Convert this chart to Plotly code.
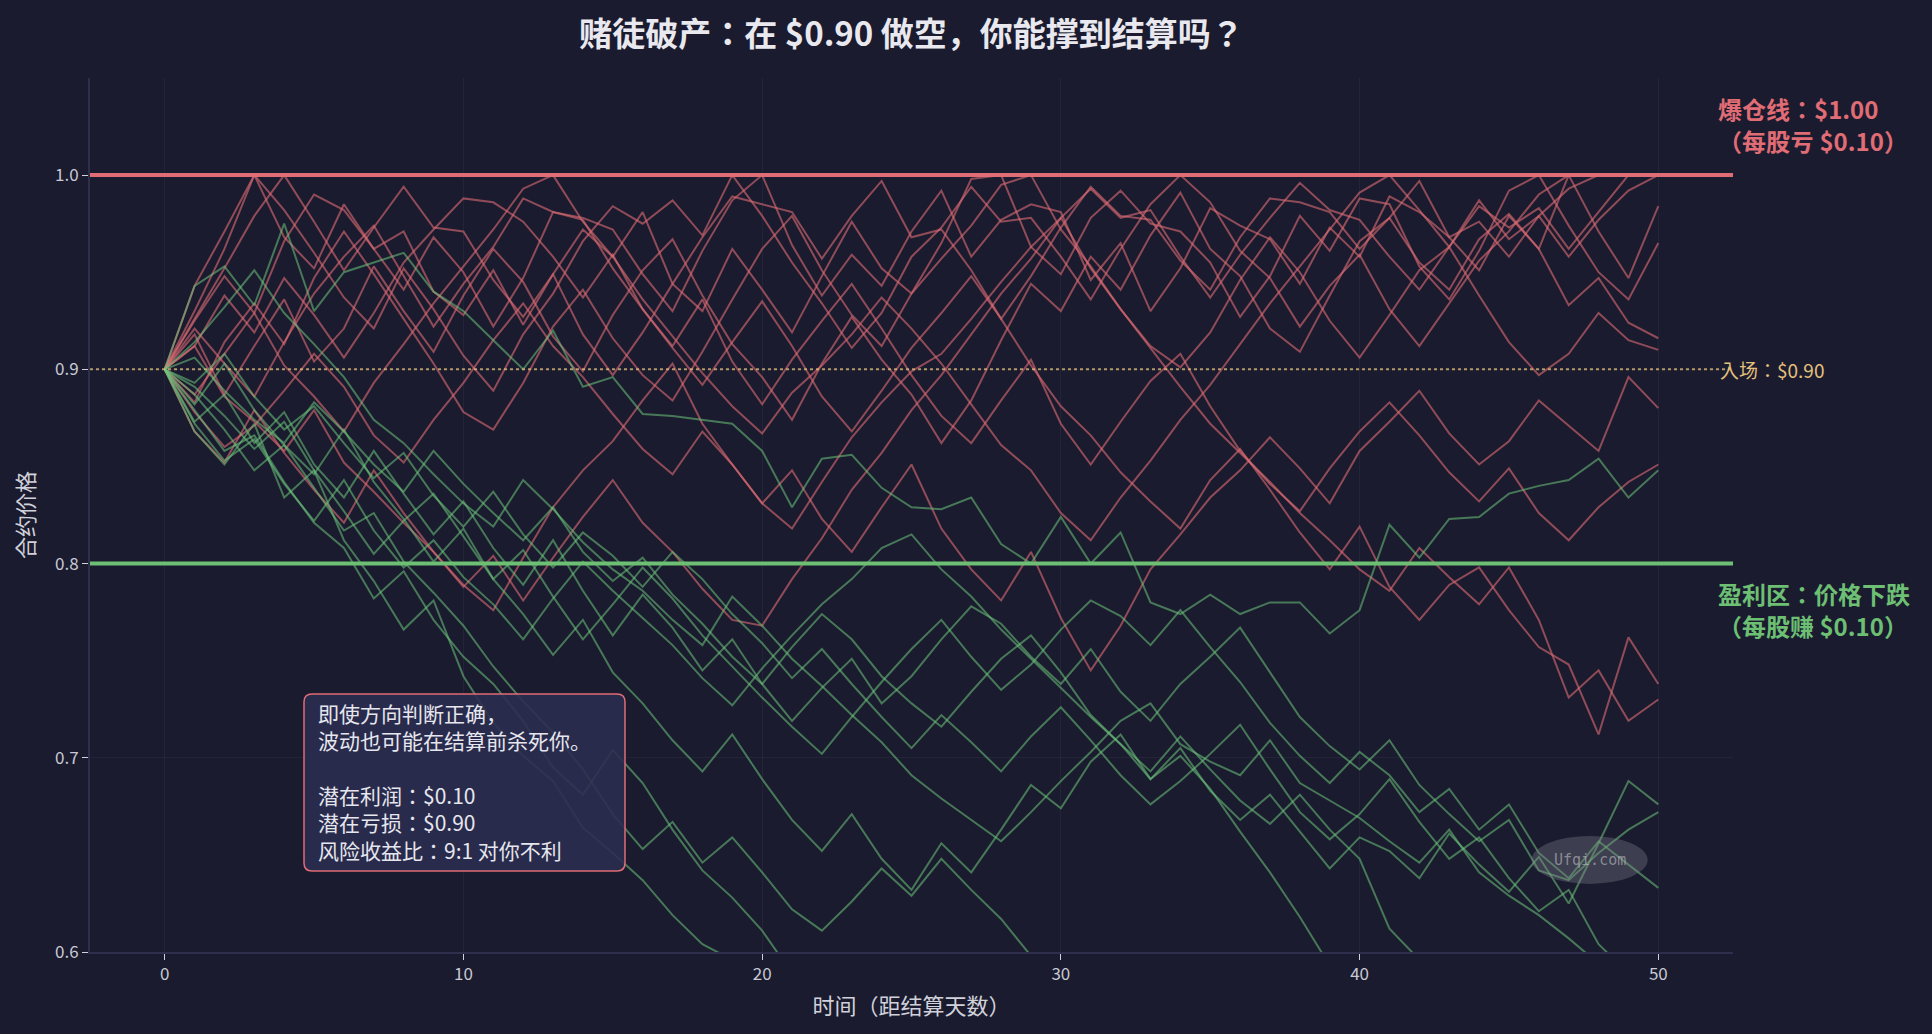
import plotly.graph_objects as go

days = list(range(51))

LIQ = 1.0
ENTRY = 0.9
PROFIT = 0.8

R1 = [.900,.930,.962,1.0,.968,.952,.985,.962,.941,.968,
      .950,.922,.947,.981,.978,.972,.949,.930,.961,.987,
      1.0,.964,.938,.959,.943,.971,.992,.958,.977,.985,
      .981,.946,.965,.930,.952,.983,.974,.967,.944,.973,
      .958,.989,.981,.968,.951,.979,.962,1.0,.971,.947,
      .984]
R2 = [.900,.925,.948,.929,.966,.990,.982,.962,.971,.940,
      .928,.951,.923,.949,.972,.958,.981,.944,.930,.962,
      .941,.919,.948,.976,.952,.939,.965,.998,1.0,.963,
      .949,.978,.992,.975,.971,.955,.927,.948,.979,.961,
      .988,.985,.953,.936,.961,.992,1.0,.974,.950,.936,
      .965]
R3 = [.900,.918,.887,.912,.936,.904,.921,.953,.930,.909,
      .938,.962,.945,.917,.899,.928,.951,.967,.938,.913,
      .896,.874,.903,.927,.905,.887,.862,.884,.915,.944,
      .930,.958,.941,.969,.991,.962,.948,.921,.909,.938,
      .966,.978,.955,.941,.967,.980,.962,.933,.947,.924,
      .916]
R4 = [.900,.883,.914,.934,.913,.947,.971,.949,.926,.903,
      .878,.869,.893,.922,.941,.916,.897,.884,.909,.936,
      .962,.979,.951,.928,.912,.939,.957,.974,.995,1.0,
      .972,.953,.931,.912,.901,.919,.946,.968,.950,.925,
      .906,.928,.951,.963,.938,.914,.897,.908,.929,.915,
      .910]
R5 = [.900,.878,.860,.871,.889,.908,.891,.866,.852,.874,
      .893,.915,.934,.912,.896,.877,.859,.846,.868,.851,
      .831,.848,.823,.806,.829,.851,.818,.797,.781,.806,
      .772,.745,.768,.797,.815,.834,.848,.865,.849,.831,
      .858,.873,.889,.867,.851,.863,.884,.871,.858,.896,
      .880]
R6 = [.900,.921,.903,.886,.914,.939,.958,.974,.948,.922,
      .944,.963,.988,.981,.977,.952,.931,.912,.936,.904,
      .882,.905,.925,.944,.921,.897,.876,.862,.884,.905,
      .872,.851,.873,.894,.908,.881,.858,.841,.827,.849,
      .868,.883,.866,.847,.832,.849,.826,.812,.829,.842,
      .851]
R7 = [.900,.912,.938,.919,.947,.928,.906,.929,.955,.972,
      .988,.986,.976,.958,.937,.959,.931,.911,.892,.914,
      .935,.912,.886,.868,.889,.911,.929,.948,.926,.902,
      .881,.866,.847,.832,.818,.843,.859,.838,.816,.797,
      .819,.788,.771,.789,.798,.776,.757,.748,.712,.762,
      .738]
R8 = [.900,.868,.852,.879,.857,.838,.821,.848,.826,.806,
      .789,.776,.803,.829,.848,.863,.884,.903,.872,.851,
      .831,.818,.842,.865,.883,.899,.908,.926,.945,.963,
      .978,.952,.931,.911,.891,.872,.857,.842,.826,.812,
      .797,.786,.808,.793,.779,.798,.771,.731,.745,.719,
      .730]
R9 = [.900,.943,.971,1.0,.982,.960,.937,.921,.952,.931,
      .907,.889,.918,.939,.966,.984,.975,.987,.969,1.0,
      .979,.955,.934,.911,.929,.958,.973,.994,.976,.978,
      .958,.936,.962,.985,1.0,.986,.961,.947,.922,.943,
      .959,.931,.912,.934,.956,.971,.990,1.0,1.0,1.0,
      1.0]
R10 = [.900,.926,.952,.979,1.0,.976,.951,.973,.994,.973,
       .971,.946,.927,.949,.918,.897,.919,.944,.968,.989,
       .985,.981,.957,.979,.997,.968,.972,.951,.926,.948,
       .973,.994,.979,.977,.956,.941,.968,.988,.986,.981,
       .962,.978,.997,.968,.976,.958,.979,.993,1.0,1.0,
       1.0]
R11 = [.900,.912,.886,.873,.858,.879,.852,.837,.821,.806,
       .788,.804,.781,.803,.824,.843,.821,.806,.787,.771,
       .768,.792,.813,.838,.857,.879,.897,.918,.939,.957,
       .978,.993,.978,.982,.958,.937,.959,.978,.996,.982,
       .977,.958,.941,.963,.984,.973,.983,.962,.981,1.0,
       1.0]
R12 = [.900,.887,.908,.929,.902,.886,.868,.893,.913,.934,
       .953,.972,.993,1.0,.976,.958,.936,.917,.898,.881,
       .867,.888,.902,.918,.937,.921,.903,.882,.861,.848,
       .826,.812,.834,.853,.874,.892,.913,.934,.953,.972,
       .991,1.0,.982,.963,.987,.967,.979,.958,.977,.992,
       1.0]

G1 = [.900,.943,.953,.933,.975,.930,.950,.955,.960,.940,
      .930,.915,.900,.920,.891,.896,.877,.876,.874,.872,
      .858,.829,.854,.856,.839,.829,.828,.834,.810,.800,
      .824,.800,.816,.780,.774,.784,.774,.780,.780,.764,
      .776,.820,.803,.823,.824,.836,.840,.843,.854,.834,
      .848]
G2 = [.900,.868,.851,.872,.834,.848,.812,.791,.766,.781,
      .742,.718,.701,.688,.664,.651,.637,.619,.604,.596,
      .581,.573,.566,.558,.549,.541,.536,.528,.521,.515,
      .509,.503,.498,.492,.487,.481,.476,.470,.465,.461,
      .456,.452,.447,.443,.439,.435,.431,.427,.423,.419,
      .415]
G3 = [.900,.882,.903,.879,.861,.846,.869,.842,.823,.801,
      .818,.792,.774,.753,.771,.744,.728,.709,.693,.712,
      .689,.668,.652,.671,.648,.632,.656,.641,.663,.686,
      .674,.698,.712,.689,.705,.683,.668,.681,.662,.643,
      .659,.652,.638,.661,.645,.631,.649,.625,.656,.688,
      .676]
G4 = [.900,.873,.887,.862,.878,.851,.834,.858,.836,.815,
      .832,.808,.789,.812,.786,.763,.784,.767,.745,.761,
      .738,.719,.736,.751,.728,.742,.761,.778,.769,.752,
      .738,.756,.734,.719,.738,.752,.767,.744,.721,.706,
      .694,.709,.686,.671,.657,.668,.642,.637,.651,.663,
      .672]
G5 = [.900,.891,.876,.859,.873,.848,.827,.805,.822,.836,
      .814,.792,.807,.783,.761,.779,.798,.782,.763,.747,
      .731,.716,.702,.721,.739,.756,.771,.752,.735,.748,
      .766,.781,.773,.758,.776,.757,.739,.718,.701,.687,
      .703,.691,.672,.684,.663,.676,.651,.638,.657,.645,
      .633]
G6 = [.900,.879,.858,.866,.842,.821,.808,.782,.796,.771,
      .752,.738,.719,.695,.681,.704,.687,.663,.642,.628,
      .611,.589,.574,.566,.552,.561,.547,.538,.529,.542,
      .531,.519,.526,.512,.505,.497,.508,.493,.486,.479,
      .471,.483,.468,.462,.455,.449,.461,.446,.439,.433,
      .427]
G7 = [.900,.887,.869,.848,.861,.839,.817,.826,.801,.785,
      .768,.747,.729,.713,.694,.671,.653,.667,.646,.659,
      .641,.622,.611,.626,.643,.629,.648,.632,.617,.598,
      .584,.572,.563,.577,.559,.548,.541,.552,.537,.529,
      .521,.534,.518,.511,.506,.499,.508,.494,.489,.482,
      .476]
G8 = [.900,.906,.889,.874,.862,.883,.868,.851,.837,.858,
      .841,.826,.812,.829,.806,.791,.803,.784,.769,.752,
      .738,.757,.774,.761,.742,.728,.716,.734,.751,.763,
      .744,.722,.707,.689,.701,.684,.662,.641,.618,.593,
      .581,.574,.562,.571,.556,.548,.539,.545,.531,.526,
      .519]
G9 = [.900,.872,.853,.864,.841,.822,.843,.817,.798,.812,
      .793,.779,.761,.782,.801,.786,.772,.758,.741,.727,
      .746,.763,.779,.792,.808,.815,.797,.783,.766,.751,
      .736,.721,.707,.693,.711,.694,.678,.666,.681,.663,
      .648,.612,.596,.584,.577,.566,.572,.558,.551,.547,
      .539]
G10 = [.900,.914,.932,.951,.929,.913,.896,.874,.862,.846,
       .831,.819,.843,.828,.811,.797,.786,.771,.758,.783,
       .768,.751,.737,.722,.708,.691,.679,.668,.657,.672,
       .688,.703,.719,.728,.707,.698,.691,.709,.687,.678,
       .669,.657,.646,.663,.641,.629,.619,.607,.594,.583,
       .576]
G11 = [.900,.893,.908,.886,.869,.881,.862,.844,.857,.835,
       .819,.837,.815,.798,.816,.804,.788,.806,.792,.774,
       .759,.741,.756,.738,.721,.705,.722,.708,.693,.711,
       .726,.709,.691,.676,.688,.702,.717,.694,.672,.658,
       .671,.689,.667,.648,.659,.638,.621,.632,.604,.589,
       .581]

red_paths = [R1, R2, R3, R4, R5, R6, R7, R8, R9, R10, R11, R12]
green_paths = [G1, G2, G3, G4, G5, G6, G7, G8, G9, G10, G11]

x_ticks = [0, 10, 20, 30, 40, 50]
y_ticks = [0.6, 0.7, 0.8, 0.9, 1.0]

liq_lines = ["爆仓线：$1.00", "（每股亏 $0.10）"]
profit_lines = ["盈利区：价格下跌", "（每股赚 $0.10）"]
box_lines = ["即使方向判断正确，", "波动也可能在结算前杀死你。", "",
             "潜在利润：$0.10", "潜在亏损：$0.90", "风险收益比：9:1 对你不利"]

BG = "#1a1b2e"
RED = "#e06c75"
GREEN = "#6cbf73"
GOLD = "#e5c07b"
FONT = "Noto Sans CJK JP, Noto Sans, sans-serif"

# plot-area pixel geometry (for placing text lines in pixels)
W, H = 1932, 1034
ML, MR, MT, MB = 90, 199, 78, 82
PW, PH = W - ML - MR, H - MT - MB


def px_to_paper_y(py):
    return 1 - (py - MT) / PH


def px_to_paper_x(px):
    return (px - ML) / PW


fig = go.Figure()
for p in red_paths:
    fig.add_trace(go.Scatter(x=days, y=p, mode="lines",
                             line=dict(color="rgba(224,108,117,0.6)", width=2),
                             showlegend=False, hoverinfo="skip"))
for p in green_paths:
    fig.add_trace(go.Scatter(x=days, y=p, mode="lines",
                             line=dict(color="rgba(110,196,124,0.55)", width=2),
                             showlegend=False, hoverinfo="skip"))

fig.add_shape(type="line", xref="paper", x0=0, x1=1, yref="y", y0=LIQ, y1=LIQ,
              line=dict(color=RED, width=4), layer="above")
fig.add_shape(type="line", xref="paper", x0=0, x1=1, yref="y", y0=PROFIT, y1=PROFIT,
              line=dict(color=GREEN, width=4), layer="above")
fig.add_shape(type="line", xref="paper", x0=0, x1=1, yref="y", y0=ENTRY, y1=ENTRY,
              line=dict(color=GOLD, width=2, dash="dot"), opacity=0.75, layer="above")

# watermark
fig.add_shape(type="circle", xref="x", yref="y", xsizemode="pixel", ysizemode="pixel",
              xanchor=47.7, yanchor=0.6474, x0=-58, x1=58, y0=-24, y1=24,
              fillcolor="rgba(130,130,140,0.35)", line=dict(width=0), layer="above")
fig.add_annotation(x=47.7, y=0.6474, xref="x", yref="y", text="Ufqi.com", showarrow=False,
                   font=dict(family="DejaVu Sans Mono", size=15, color="rgba(190,190,198,0.6)"))

# right-side labels, one annotation per line
for i, t in enumerate(liq_lines):
    fig.add_annotation(xref="paper", x=px_to_paper_x(1716), yref="paper", y=px_to_paper_y(108 + 32.5 * i),
                       xanchor="left", yanchor="middle", text=f"<b>{t}</b>", showarrow=False,
                       font=dict(family=FONT, size=24, color=RED))
for i, t in enumerate(profit_lines):
    fig.add_annotation(xref="paper", x=px_to_paper_x(1716), yref="paper", y=px_to_paper_y(593 + 32.5 * i),
                       xanchor="left", yanchor="middle", text=f"<b>{t}</b>", showarrow=False,
                       font=dict(family=FONT, size=24, color=GREEN))
fig.add_annotation(xref="paper", x=px_to_paper_x(1718), yref="y", y=ENTRY, xanchor="left", yanchor="middle",
                   text="入场：$0.90", showarrow=False,
                   font=dict(family=FONT, size=19, color=GOLD))

# rounded info box (paper coords)
bx0, bx1 = px_to_paper_x(304), px_to_paper_x(625)
by1, by0 = px_to_paper_y(694), px_to_paper_y(871)
rx, ry = 8 / PW, 8 / PH
box_path = (f"M {bx0+rx},{by1} L {bx1-rx},{by1} Q {bx1},{by1} {bx1},{by1-ry} "
            f"L {bx1},{by0+ry} Q {bx1},{by0} {bx1-rx},{by0} L {bx0+rx},{by0} "
            f"Q {bx0},{by0} {bx0},{by0+ry} L {bx0},{by1-ry} Q {bx0},{by1} {bx0+rx},{by1} Z")
fig.add_shape(type="path", xref="paper", yref="paper", path=box_path,
              fillcolor="rgba(43,45,80,0.9)", line=dict(color=RED, width=1.5), layer="above")
for i, t in enumerate(box_lines):
    if not t:
        continue
    fig.add_annotation(xref="paper", x=px_to_paper_x(316), yref="paper", y=px_to_paper_y(713 + 27.3 * i),
                       xanchor="left", yanchor="middle", text=t, showarrow=False,
                       font=dict(family=FONT, size=21, color="#e6e6ee"))

fig.update_layout(
    width=W, height=H,
    paper_bgcolor=BG, plot_bgcolor=BG,
    margin=dict(l=ML, r=MR, t=MT, b=MB),
    font=dict(family=FONT, color="#c8c9d4"),
    title=dict(text="<b>赌徒破产：在 $0.90 做空，你能撑到结算吗？</b>",
               x=0.5, xref="paper", xanchor="center", y=1 - 34.5 / H, yref="container",
               yanchor="middle", font=dict(family=FONT, size=33, color="#e8e8ee")),
    showlegend=False,
)
fig.update_xaxes(range=[-2.5, 52.5], tickvals=x_ticks, ticks="outside", ticklen=6,
                 tickcolor="#cfd0d8", tickfont=dict(size=17, color="#c8c9d4"),
                 gridcolor="rgba(255,255,255,0.045)", showline=True, linecolor="#2d2f4d",
                 linewidth=2, zeroline=False,
                 title=dict(text="时间（距结算天数）", font=dict(size=22, color="#d0d1da"), standoff=14))
fig.update_yaxes(range=[0.6, 1.05], tickvals=y_ticks, tickformat=".1f", ticks="outside", ticklen=6,
                 tickcolor="#cfd0d8", tickfont=dict(size=17, color="#c8c9d4"),
                 gridcolor="rgba(255,255,255,0.045)", showline=True, linecolor="#2d2f4d",
                 linewidth=2, zeroline=False,
                 title=dict(text="合约价格", font=dict(size=22, color="#d0d1da"), standoff=14))

fig.write_html("out.html", config={"displayModeBar": False},
               post_script="document.body.style.margin='0';document.body.style.background='#1a1b2e';")
